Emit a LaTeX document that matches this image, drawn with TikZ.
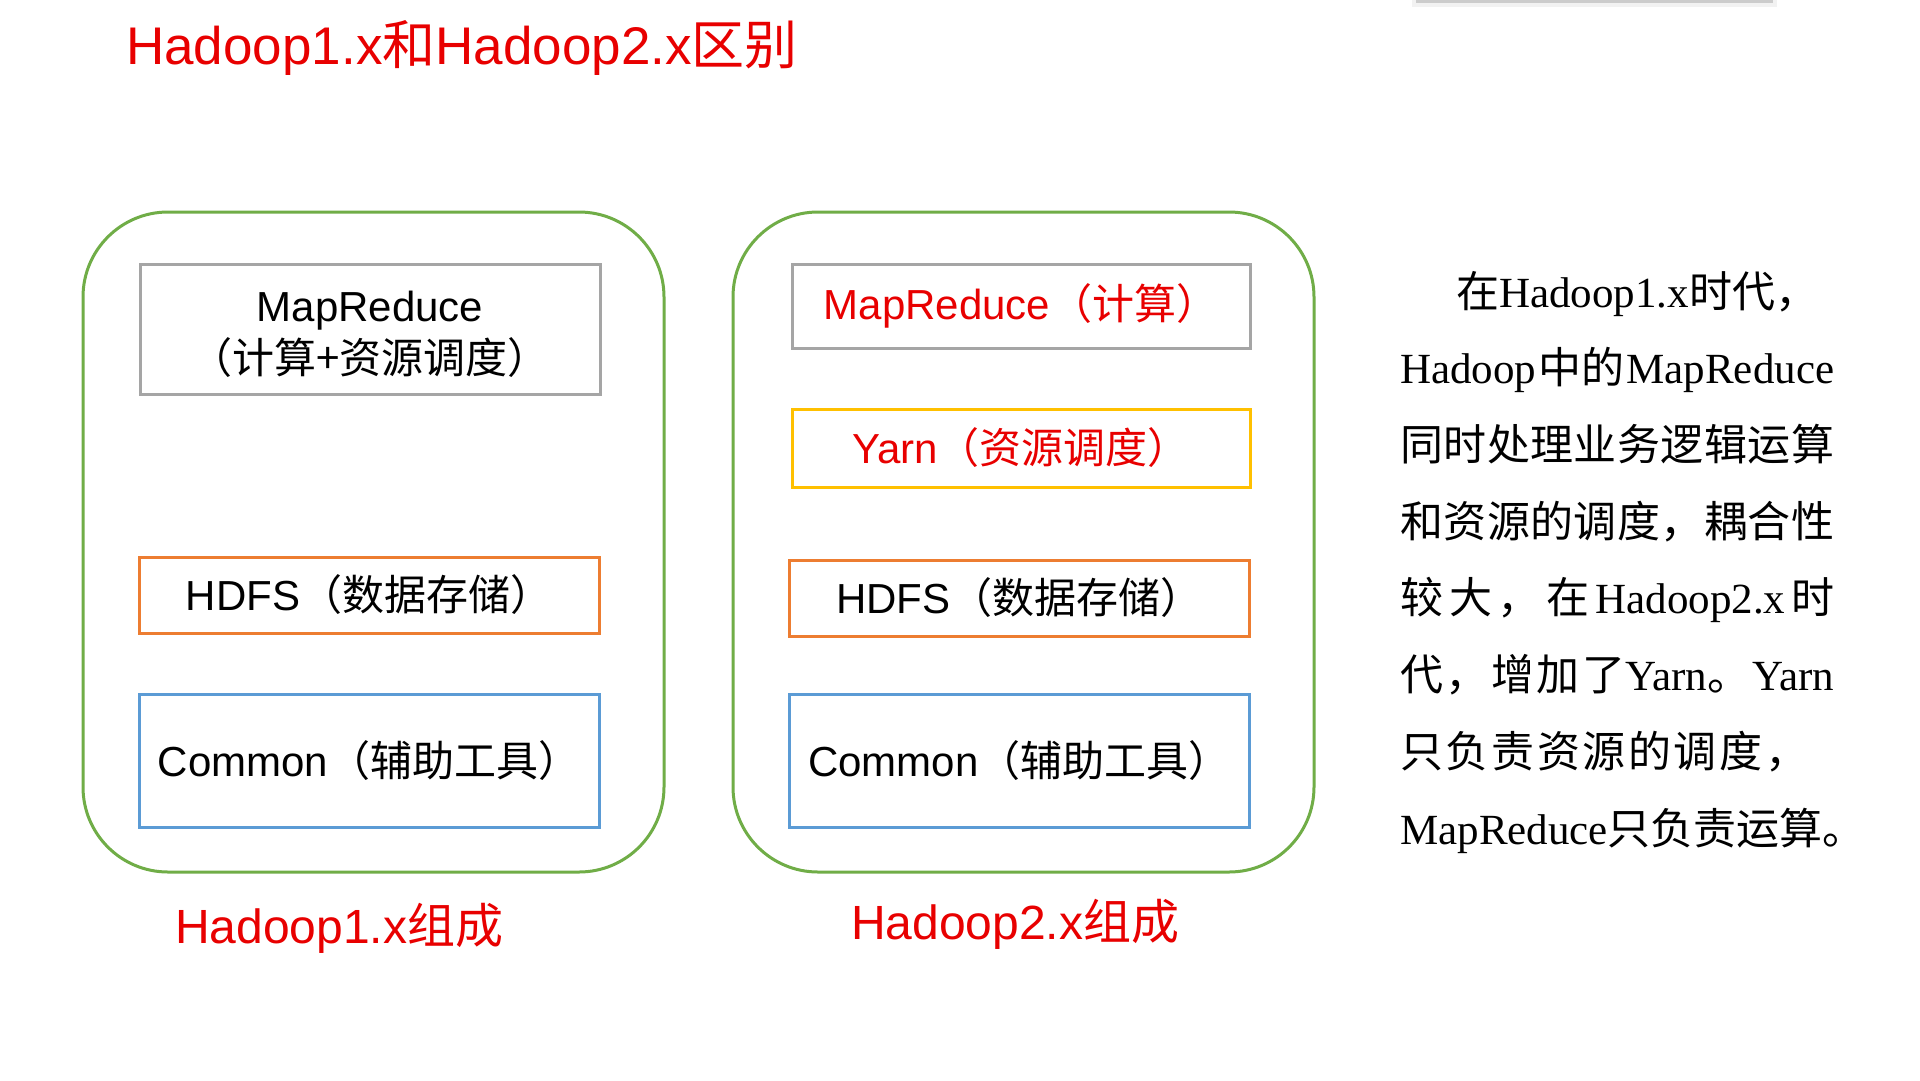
\documentclass[tikz,border=0pt]{standalone}
\usepackage{fontspec}
\setmainfont{Liberation Sans}
\newfontfamily\cjkf{Noto Sans CJK SC}
\newfontfamily\serf{Liberation Serif}
\newcommand\zh[1]{{\cjkf #1}}
\definecolor{hred}{RGB}{232,0,0}
\definecolor{lgray}{RGB}{165,165,165}
\definecolor{lorange}{RGB}{237,125,49}
\definecolor{lyellow}{RGB}{255,192,0}
\definecolor{lblue}{RGB}{91,155,213}
\definecolor{lgreen}{RGB}{112,173,71}
\tikzset{
  layerbox/.style={draw, line width=3pt, inner sep=0pt, minimum width=460pt, align=center, font=\fontsize{42}{52}\selectfont},
  outerbox/.style={draw=lgreen, line width=3pt, rounded corners=85pt, minimum width=581pt, minimum height=660pt, inner sep=0pt},
  caption/.style={anchor=base west, text=hred, inner sep=0pt, font=\fontsize{48}{56}\selectfont},
  para/.style={anchor=base west, inner sep=0pt, font=\serf\fontsize{43}{50}\selectfont}
}
\begin{document}
\begin{tikzpicture}[x=1pt,y=-1pt]
\useasboundingbox (0,0) rectangle (1920,1080);
\fill[white] (0,0) rectangle (1920,1080);
% faint bar at top right
\fill[gray!10] (1412,0) rectangle (1777,7);
\fill[gray!40] (1416,0) rectangle (1773,2.5);

\node[anchor=base west, text=hred, inner sep=0pt, font=\fontsize{53}{60}\selectfont] (title) at (126,64) {Hadoop1.x\zh{和}Hadoop2.x\zh{区别}};

% Hadoop 1.x
\node[outerbox] (outer1) at (373.5,542) {};
\node[layerbox, draw=lgray, minimum height=130pt] (mr1) at (370,329) {};
\node[font=\fontsize{42}{52}\selectfont, align=center, inner sep=0pt] (mr1t) at (370,334) {MapReduce\\\zh{（计算+资源调度）}};
\node[layerbox, draw=lorange, minimum height=76pt] (hdfs1) at (369,595) {HDFS\zh{（数据存储）}};
\node[layerbox, draw=lblue, minimum height=133pt] (common1) at (369,760.5) {Common\zh{（辅助工具）}};
\node[caption] (cap1) at (175,943) {Hadoop1.x\zh{组成}};

% Hadoop 2.x
\node[outerbox] (outer2) at (1023.5,542) {};
\node[layerbox, draw=lgray, minimum width=458pt, minimum height=84pt, text=hred] (mr2) at (1021,306) {MapReduce\zh{（计算）}};
\node[layerbox, draw=lyellow, minimum width=458pt, minimum height=78pt, text=hred] (yarn2) at (1021,448) {Yarn\zh{（资源调度）}};
\node[layerbox, draw=lorange, minimum height=76pt] (hdfs2) at (1019.5,598) {HDFS\zh{（数据存储）}};
\node[layerbox, draw=lblue, minimum height=133pt] (common2) at (1019.5,760.5) {Common\zh{（辅助工具）}};
\node[caption] (cap2) at (851,939) {Hadoop2.x\zh{组成}};

% explanation text
\node[para] (l1) at (1456,307) {\zh{在}Hadoop1.x\zh{时代，}};
\node[para] (l2) at (1400,383) {\hbox to 434pt{Hadoop\hfil\zh{中的}\hfil MapReduce}};
\node[para] (l3) at (1400,460) {\hbox to 434pt{\zh{同}\hfil\zh{时}\hfil\zh{处}\hfil\zh{理}\hfil\zh{业}\hfil\zh{务}\hfil\zh{逻}\hfil\zh{辑}\hfil\zh{运}\hfil\zh{算}}};
\node[para] (l4) at (1400,537) {\hbox to 434pt{\zh{和}\hfil\zh{资}\hfil\zh{源}\hfil\zh{的}\hfil\zh{调}\hfil\zh{度}\hfil\zh{，}\hfil\zh{耦}\hfil\zh{合}\hfil\zh{性}}};
\node[para] (l5) at (1400,613) {\hbox to 434pt{\zh{较}\hfil\zh{大}\hfil\zh{，}\hfil\zh{在}\hfil Hadoop2.x\hfil\zh{时}}};
\node[para] (l6) at (1400,690) {\hbox to 434pt{\zh{代}\hfil\zh{，}\hfil\zh{增}\hfil\zh{加}\hfil\zh{了}Yarn\zh{。}\hfil Yarn}};
\node[para] (l7) at (1400,767) {\hbox to 408pt{\zh{只}\hfil\zh{负}\hfil\zh{责}\hfil\zh{资}\hfil\zh{源}\hfil\zh{的}\hfil\zh{调}\hfil\zh{度}\hfil\zh{，}}};
\node[para] (l8) at (1400,844) {MapReduce\zh{只负责运算。}};
\end{tikzpicture}
\end{document}
